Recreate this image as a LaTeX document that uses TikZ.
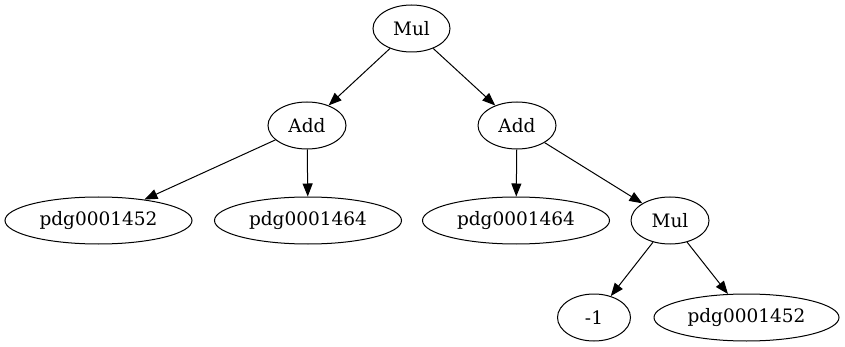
\documentclass[tikz,border=0pt]{standalone}
\usepackage{fontspec}
\setmainfont{DejaVu Serif}
\usetikzlibrary{shapes.geometric,arrows.meta}
\begin{document}
\begin{tikzpicture}[x=1pt,y=-1pt,
  nd/.style={draw,ellipse,line width=1pt,inner sep=0pt,minimum height=47pt,font=\fontsize{18.5}{20}\selectfont},
  ed/.style={-{Triangle[length=13pt,width=10pt]},line width=1pt}]
\useasboundingbox (0,0) rectangle (845,347);
\node[nd,minimum width=77pt] (mul1) at (411.5,28.5) {Mul};
\node[nd,minimum width=78pt] (add1) at (307,125.5) {Add};
\node[nd,minimum width=78pt] (add2) at (517,125.5) {Add};
\node[nd,minimum width=187pt] (p1) at (98.5,220.5) {pdg0001452};
\node[nd,minimum width=187pt] (p2) at (308,220.5) {pdg0001464};
\node[nd,minimum width=187pt] (p3) at (516,220.5) {pdg0001464};
\node[nd,minimum width=78pt] (mul2) at (670,220.5) {Mul};
\node[nd,minimum width=73pt] (m1) at (594,317.5) {-1};
\node[nd,minimum width=185pt] (p4) at (746.5,317.5) {pdg0001452};
\draw[ed] (mul1) -- (add1);
\draw[ed] (mul1) -- (add2);
\draw[ed] (add1) -- (p1);
\draw[ed] (add1) -- (p2);
\draw[ed] (add2) -- (p3);
\draw[ed] (add2) -- (mul2);
\draw[ed] (mul2) -- (m1);
\draw[ed] (mul2) -- (p4);
\end{tikzpicture}
\end{document}
